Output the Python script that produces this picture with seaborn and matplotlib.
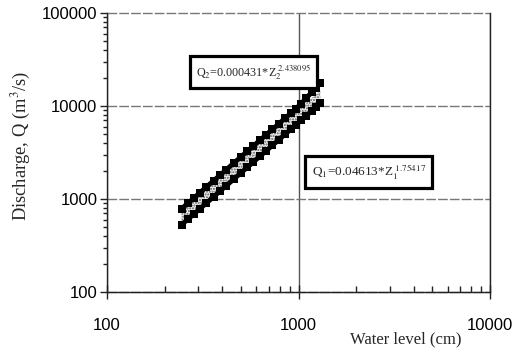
import numpy as np
import pandas as pd
import matplotlib
matplotlib.use("Agg")
import matplotlib.pyplot as plt
import seaborn as sns
from matplotlib.ticker import LogLocator, FixedLocator, NullFormatter

# ---- data ----
water_level = [245, 265, 285, 305, 330, 360, 390, 420, 460, 500, 540, 580,
               630, 680, 730, 790, 850, 910, 970, 1030, 1100, 1170, 1240, 1300]
q_upper = [785, 903, 1030, 1164, 1341, 1569, 1811, 2070, 2438, 2833, 3254, 3701,
           4295, 4927, 5599, 6453, 7364, 8325, 9339, 10600, 12200, 14000, 15800, 17500]
q_lower = [528, 608, 693, 783, 902, 1056, 1219, 1393, 1641, 1906, 2189, 2491,
           2890, 3316, 3768, 4343, 4956, 5602, 6285, 7002, 7881, 8807, 9779, 10647]
band_top = [728, 837, 955, 1079, 1243, 1454, 1679, 1919, 2260, 2626, 3016, 3431,
            3981, 4567, 5190, 5982, 6826, 7717, 8657, 9645, 10856, 12132, 13470, 14666]
band_bot = [570, 656, 748, 845, 973, 1139, 1315, 1503, 1770, 2057, 2362, 2687,
            3118, 3577, 4065, 4685, 5346, 6043, 6780, 7553, 8502, 9501, 10549, 11486]
x_ticks = [100, 1000, 10000]
y_ticks = [100, 1000, 10000, 100000]
eq_q2 = r"Q$_2$=0.000431*Z$_2^{\ 2.438095}$"
eq_q1 = r"Q$_1$=0.04613*Z$_1^{\ 1.75417}$"

sns.set_style("white")
plt.rcParams["mathtext.fontset"] = "stix"
plt.rcParams["font.family"] = ["Liberation Sans", "DejaVu Sans"]

fig = plt.figure(figsize=(5.15, 3.52), dpi=100)
ax = fig.add_axes([107 / 515, 1 - 292 / 352, (490 - 107) / 515, (292 - 13) / 352])
ax.set_xscale("log")
ax.set_yscale("log")
ax.set_xlim(100, 10000)
ax.set_ylim(100, 100000)

# grid
ax.set_axisbelow(True)
ax.yaxis.grid(True, which="major", color="#777777", lw=1.0, ls=(0, (7, 1.5)))
ax.xaxis.grid(True, which="major", color="#555555", lw=1.0, ls="-")
for gl in ax.get_ygridlines():
    gl.set_clip_on(False)

# gray dotted band
ax.fill_between(water_level, band_bot, band_top, facecolor="#ececec",
                edgecolor="#5a5a5a", hatch="......", linewidth=0, zorder=2)

df = pd.DataFrame({
    "Z": water_level * 2,
    "Q": q_upper + q_lower,
    "series": ["upper"] * len(water_level) + ["lower"] * len(water_level),
})
sns.lineplot(data=df, x="Z", y="Q", units="series", estimator=None, ax=ax,
             color="black", lw=3.5, marker="s", markersize=5.8,
             markeredgewidth=0, legend=False, zorder=3, sort=False)

# axes styling
for side in ["left", "bottom", "right"]:
    ax.spines[side].set_visible(True)
    ax.spines[side].set_color("#222222")
    ax.spines[side].set_linewidth(1.0)
ax.spines["top"].set_visible(False)

ax.xaxis.set_major_locator(FixedLocator(x_ticks))
ax.yaxis.set_major_locator(FixedLocator(y_ticks))
ax.xaxis.set_minor_locator(LogLocator(base=10, subs=np.arange(2, 10)))
ax.yaxis.set_minor_locator(LogLocator(base=10, subs=np.arange(2, 10)))
ax.xaxis.set_minor_formatter(NullFormatter())
ax.yaxis.set_minor_formatter(NullFormatter())
ax.set_xticklabels([str(v) for v in x_ticks])
ax.set_yticklabels([str(v) for v in y_ticks])
ax.set_xlabel("")
ax.set_ylabel("")

ax.tick_params(axis="x", which="major", direction="inout", length=10, width=1,
               labelsize=12, pad=14, bottom=True, colors="#222222", labelcolor="black")
ax.tick_params(axis="x", which="minor", direction="in", length=4, width=1,
               bottom=True, colors="#222222")
ax.tick_params(axis="y", which="major", direction="out", length=5, width=1,
               labelsize=12, pad=2, left=True, colors="#222222", labelcolor="black")
ax.tick_params(axis="y", which="minor", direction="out", length=3, width=1,
               left=True, colors="#222222")

ax.set_xlabel("Water level (cm)", fontsize=12, family="Liberation Serif")
ax.xaxis.set_label_coords((406 - 107) / 383, -(331 - 292) / 279)
ax.set_ylabel("Discharge, Q (m$^3$/s)", fontsize=13.3, family="Liberation Serif")
ax.yaxis.set_label_coords(-(107 - 33) / 383, (292 - 146) / 279)

box = dict(boxstyle="square,pad=0.5", fc="white", ec="black", lw=2.3)
ax.text(290, 23200, eq_q2, fontsize=8.7, family="Liberation Serif",
        ha="left", va="center", bbox=box, zorder=5)
ax.text(1170, 1950, eq_q1, fontsize=9.5, family="Liberation Serif",
        ha="left", va="center", bbox=box, zorder=5)

fig.savefig("out.png", dpi=100)
